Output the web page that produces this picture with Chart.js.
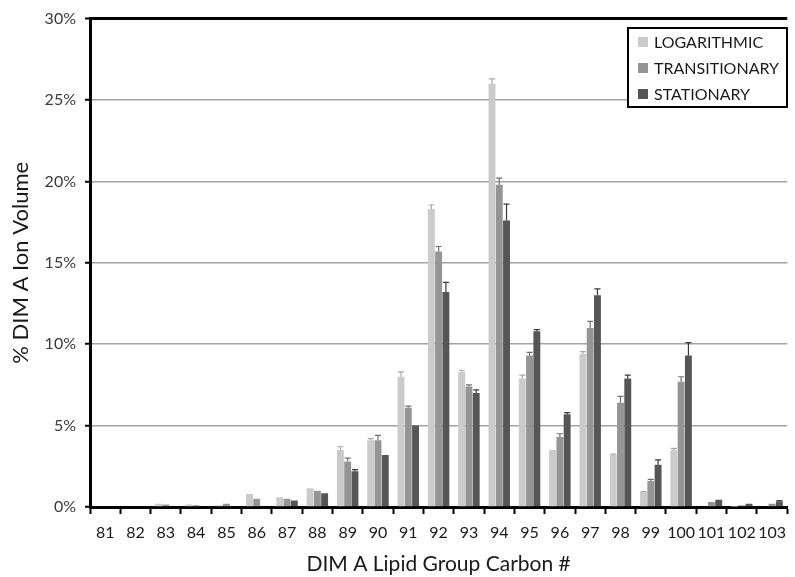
<!DOCTYPE html>
<html>
<head>
<meta charset="utf-8">
<script src="https://cdn.jsdelivr.net/npm/chart.js@4"></script>
<style>
  html, body { margin: 0; padding: 0; background: #fff; }
  #wrap { width: 795px; height: 577px; }
</style>
</head>
<body>
<div id="wrap"><canvas id="dimChart" width="795" height="577"></canvas></div>
<script>
const categories = ['81', '82', '83', '84', '85', '86', '87', '88', '89', '90', '91', '92',
    '93', '94', '95', '96', '97', '98', '99', '100', '101', '102', '103'];

// % DIM A ion volume
const logValues   = [0, 0, 0.2, 0.15, 0.1, 0.8, 0.6, 1.15, 3.5, 4.1, 8.0, 18.3, 8.3, 26.0, 7.9, 3.5, 9.4, 3.2, 0.9, 3.5, 0.05, 0.02, 0.05];
const transValues = [0, 0, 0.15, 0.1, 0.2, 0.5, 0.5, 1.0, 2.8, 4.1, 6.1, 15.7, 7.4, 19.8, 9.3, 4.3, 11.0, 6.4, 1.6, 7.7, 0.3, 0.1, 0.2];
const statValues  = [0, 0, 0, 0, 0, 0, 0.4, 0.85, 2.2, 3.2, 5.0, 13.2, 7.0, 17.6, 10.8, 5.7, 13.0, 7.9, 2.6, 9.3, 0.45, 0.2, 0.35];

// upper error bars
const logErr   = [0, 0, 0, 0, 0, 0, 0, 0, 0.2, 0.1, 0.3, 0.25, 0.1, 0.3, 0.2, 0, 0.15, 0.05, 0.05, 0.1, 0, 0, 0];
const transErr = [0, 0, 0, 0, 0, 0, 0, 0, 0.2, 0.3, 0.1, 0.3, 0.1, 0.4, 0.2, 0.2, 0.4, 0.4, 0.1, 0.3, 0, 0, 0];
const statErr  = [0, 0, 0, 0, 0, 0, 0, 0, 0.1, 0, 0, 0.6, 0.2, 1.0, 0.1, 0.1, 0.4, 0.2, 0.3, 0.8, 0, 0, 0.05];

const yTicks = [0, 5, 10, 15, 20, 25, 30];

const FONT = 'Lato, "Open Sans", sans-serif';

const errorBars = {
    id: 'errorBars',
    afterDatasetsDraw(chart) {
        const ctx = chart.ctx;
        const y = chart.scales.y;
        chart.data.datasets.forEach((ds, i) => {
            const meta = chart.getDatasetMeta(i);
            ctx.save();
            ctx.strokeStyle = ds.errColor;
            ctx.lineWidth = 1.2;
            meta.data.forEach((bar, j) => {
                const e = ds.errors[j];
                if (!e) return;
                const top = y.getPixelForValue(ds.data[j] + e);
                ctx.beginPath();
                ctx.moveTo(bar.x, bar.y);
                ctx.lineTo(bar.x, top);
                ctx.moveTo(bar.x - 3, top);
                ctx.lineTo(bar.x + 3, top);
                ctx.stroke();
            });
            ctx.restore();
        });
    }
};

const boxLegend = {
    id: 'boxLegend',
    afterDraw(chart) {
        const ctx = chart.ctx;
        const x0 = 628, y0 = 28, w = 159, h = 79;
        ctx.save();
        ctx.fillStyle = '#fff';
        ctx.fillRect(x0, y0, w, h);
        ctx.strokeStyle = '#000';
        ctx.lineWidth = 2;
        ctx.strokeRect(x0, y0, w, h);
        ctx.font = '16px ' + FONT;
        ctx.textBaseline = 'middle';
        chart.data.datasets.forEach((ds, i) => {
            const cy = y0 + 14 + i * 26;
            ctx.fillStyle = ds.backgroundColor;
            ctx.fillRect(x0 + 10, cy - 5, 10, 10);
            ctx.fillStyle = '#1a1a1a';
            ctx.fillText(ds.label, x0 + 26, cy + 1);
        });
        ctx.restore();
    }
};

const ctx = document.getElementById('dimChart').getContext('2d');

const dimChart = new Chart(ctx, {
    type: 'bar',
    data: {
        labels: categories,
        datasets: [{
            label: 'LOGARITHMIC',
            data: logValues,
            errors: logErr,
            backgroundColor: '#cbcbcb',
            errColor: '#a8a8a8',
            categoryPercentage: 0.72,
            barPercentage: 0.95
        }, {
            label: 'TRANSITIONARY',
            data: transValues,
            errors: transErr,
            backgroundColor: '#959595',
            errColor: '#707070',
            categoryPercentage: 0.72,
            barPercentage: 0.95
        }, {
            label: 'STATIONARY',
            data: statValues,
            errors: statErr,
            backgroundColor: '#565656',
            errColor: '#3a3a3a',
            categoryPercentage: 0.72,
            barPercentage: 0.95
        }]
    },
    options: {
        responsive: false,
        animation: false,
        layout: { padding: { top: 18, right: 0, bottom: 0, left: 0 } },
        plugins: {
            legend: { display: false },
            tooltip: { enabled: false }
        },
        scales: {
            x: {
                afterFit: (s) => { s.height = 70; },
                grid: {
                    offset: true,
                    drawOnChartArea: false,
                    drawTicks: true,
                    tickLength: 7,
                    tickColor: '#000',
                    tickWidth: 2
                },
                border: { display: true, color: '#000', width: 3 },
                ticks: {
                    color: '#1a1a1a',
                    padding: 9,
                    maxRotation: 0,
                    autoSkip: false,
                    font: { family: FONT, size: 16 }
                },
                title: {
                    display: true,
                    text: 'DIM A Lipid Group Carbon #',
                    color: '#1a1a1a',
                    font: { family: FONT, size: 21 },
                    padding: { top: 0, bottom: 0 }
                }
            },
            y: {
                min: 0,
                max: 30,
                afterFit: (s) => { s.width = 90; },
                afterBuildTicks: (s) => { s.ticks = yTicks.map(v => ({ value: v })); },
                grid: {
                    color: (c) => c.tick && c.tick.value === 30 ? '#000' : '#a3a3a3',
                    lineWidth: (c) => c.tick && c.tick.value === 30 ? 3 : 1.5,
                    tickColor: '#000',
                    tickLength: 5,
                    tickWidth: 2
                },
                border: { display: true, color: '#000', width: 3 },
                ticks: {
                    color: '#3a3a3a',
                    padding: 9,
                    font: { family: FONT, size: 16 },
                    callback: (v) => v + '%'
                },
                title: {
                    display: true,
                    text: '% DIM A Ion Volume',
                    color: '#1a1a1a',
                    font: { family: FONT, size: 22 },
                    padding: { top: 8, bottom: 0 }
                }
            }
        }
    },
    plugins: [errorBars, boxLegend]
});
</script>
</body>
</html>
